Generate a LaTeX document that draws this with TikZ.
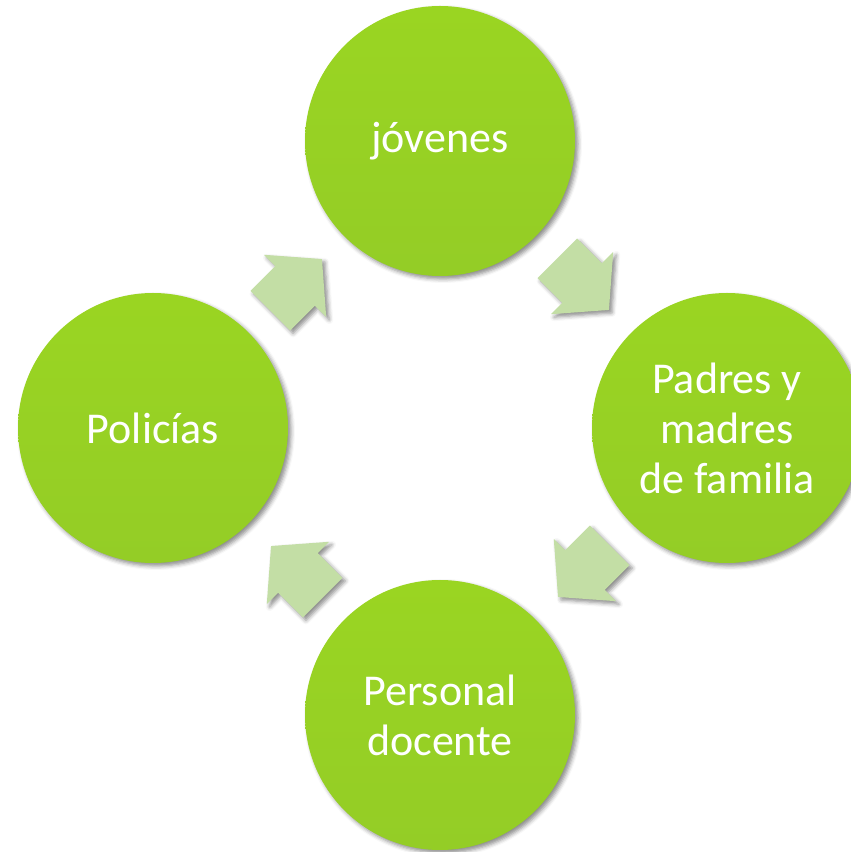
\documentclass[tikz,border=0pt]{standalone}
\usepackage{fontspec}
\setmainfont{Carlito}
\usetikzlibrary{shadows.blur}
\definecolor{circgreentop}{RGB}{154,213,34}
\definecolor{circgreenbot}{RGB}{148,205,38}
\definecolor{arrgreen}{RGB}{195,222,165}
\tikzset{
  bubble/.style={circle, minimum size=270pt, inner sep=0pt,
    top color=circgreentop, bottom color=circgreenbot,
    text=white, align=center, font=\fontsize{44}{50}\selectfont,
    blur shadow={shadow xshift=3pt, shadow yshift=-3pt, shadow blur radius=4pt, shadow opacity=45}},
  arrowfill/.style={fill=arrgreen,
    blur shadow={shadow xshift=3pt, shadow yshift=-3pt, shadow blur radius=4pt, shadow opacity=45}},
  cyclearrow/.pic={\path[arrowfill] (-37,28) -- (-2,28) -- (-2,44) -- (36,0) -- (-2,-44) -- (-2,-28) -- (-37,-28) -- cycle;}
}
\begin{document}
\begin{tikzpicture}[x=1pt,y=1pt]
\useasboundingbox (0,0) rectangle (851,852);
\clip (0,0) rectangle (851,852);
\coordinate (c) at (440,424);
\path (296.5,567.5) pic[rotate=45] {cyclearrow};
\path (583.5,567.5) pic[rotate=-45] {cyclearrow};
\path (583.5,280.5) pic[rotate=-135] {cyclearrow};
\path (296.5,280.5) pic[rotate=135] {cyclearrow};
\node[bubble] (jov) at (440,711) {jóvenes};
\node[bubble] (pad) at (727,424) {Padres y\\madres\\de familia};
\node[bubble] (per) at (440,137) {Personal\\docente};
\node[bubble] (pol) at (153,424) {Policías};
\end{tikzpicture}
\end{document}
